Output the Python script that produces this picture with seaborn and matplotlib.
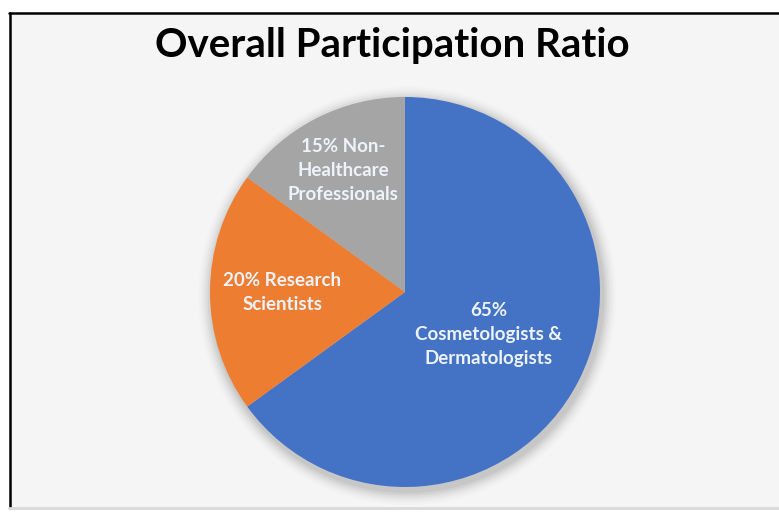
import matplotlib
matplotlib.use("Agg")
import matplotlib.pyplot as plt
from matplotlib.patches import Rectangle, Circle
from matplotlib.lines import Line2D
import numpy as np
import seaborn as sns

sns.set_theme(style="white")
plt.rcParams['font.family'] = ['Lato', 'DejaVu Sans']

# data
groups = ["Cosmetologists & Dermatologists", "Research Scientists", "Non-Healthcare Professionals"]
shares = [65, 20, 15]
labels = ["65%\nCosmetologists &\nDermatologists",
          "20% Research\nScientists",
          "15% Non-\nHealthcare\nProfessionals"]
label_dist = [0.48, 0.63, 0.70]
colors = ["#4472C4", "#ED7D31", "#A5A5A5"]

W, H = 779, 512
fig = plt.figure(figsize=(W / 100, H / 100), dpi=100)
fig.patch.set_facecolor("white")

# chart area box
fig.patches.append(Rectangle((9 / W, 4 / H), 1.0, (499 - 4) / H, transform=fig.transFigure,
                             facecolor="#f5f5f5", edgecolor="none", zorder=-10))
fig.lines.append(Line2D([9.5 / W, 9.5 / W], [4 / H, 499 / H], transform=fig.transFigure,
                        color="black", lw=1.8, zorder=-5))
fig.lines.append(Line2D([9 / W, 1.0], [499 / H, 499 / H], transform=fig.transFigure,
                        color="black", lw=1.8, zorder=-5))
fig.lines.append(Line2D([9 / W, 1.0], [4.5 / H, 4.5 / H], transform=fig.transFigure,
                        color="#d9d9d9", lw=2, zorder=-5))

# pie axes: centre (405, 220) px, radius 195 px
r_px = 195
ax = fig.add_axes([(405 - r_px) / W, (220 - r_px) / H, 2 * r_px / W, 2 * r_px / H])
ax.set_facecolor("none")
ax.set_zorder(1)

# soft shadow
for i, a in enumerate(np.linspace(0.05, 0.01, 6)):
    ax.add_patch(Circle((0.012, -0.02), 1.0 + 0.012 * (i + 1), color="black", alpha=a,
                        lw=0, zorder=0, clip_on=False))

wedges, _ = ax.pie(shares, colors=colors, startangle=90, counterclock=False,
                   radius=1.0, wedgeprops=dict(linewidth=0))
for w in wedges:
    w.set_clip_on(False)

for w, lab, d in zip(wedges, labels, label_dist):
    ang = np.deg2rad((w.theta1 + w.theta2) / 2)
    ax.text(d * np.cos(ang), d * np.sin(ang), lab, ha="center", va="center",
            color="#eef3fb", fontsize=13.5, fontweight="bold", linespacing=1.5)

ax.set_xlim(-1, 1)
ax.set_ylim(-1, 1)
ax.set_aspect("equal")
ax.axis("off")

fig.text(392 / W, 466 / H, "Overall Participation Ratio", ha="center", va="center",
         fontsize=29, fontweight="bold", color="black")

fig.savefig("out.png", dpi=100)
